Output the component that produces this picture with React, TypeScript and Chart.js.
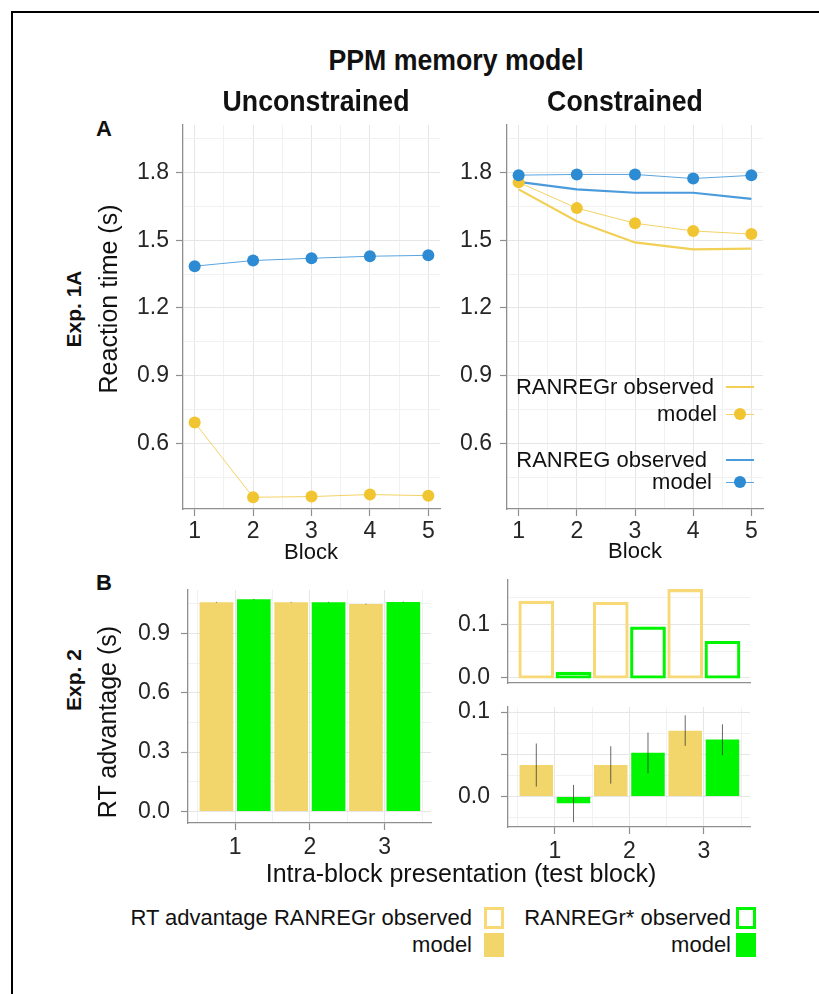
import React, { useEffect, useRef } from 'react';
import { Chart, registerables } from 'chart.js';
Chart.register(...registerables);

// ---------- DATA ----------
const BLOCKS = [1, 2, 3, 4, 5];
const UNC_RANREG_MODEL = [1.385, 1.41, 1.42, 1.429, 1.433];
const UNC_RANREGR_MODEL = [0.693, 0.362, 0.365, 0.374, 0.369];
const CON_RANREG_MODEL = [1.788, 1.791, 1.791, 1.773, 1.787];
const CON_RANREG_OBS = [1.758, 1.725, 1.71, 1.71, 1.683];
const CON_RANREGR_MODEL = [1.756, 1.642, 1.575, 1.541, 1.527];
const CON_RANREGR_OBS = [1.725, 1.584, 1.49, 1.459, 1.463];

const A_X_GRID = [1, 1.5, 2, 2.5, 3, 3.5, 4, 4.5, 5];
const A_X_LABELS = [1, 2, 3, 4, 5];
const A_Y_GRID = [0.45, 0.6, 0.75, 0.9, 1.05, 1.2, 1.35, 1.5, 1.65, 1.8, 1.95];
const A_Y_LABELS = [0.6, 0.9, 1.2, 1.5, 1.8];

const PRESENTATION = [1, 2, 3];
const UNC_ADV_R_MODEL = [1.057, 1.057, 1.048];
const UNC_ADV_R_LOW = [1.055, 1.055, 1.046];
const UNC_ADV_R_HIGH = [1.059, 1.059, 1.05];
const UNC_ADV_RSTAR_MODEL = [1.072, 1.057, 1.058];
const UNC_ADV_RSTAR_LOW = [1.07, 1.055, 1.056];
const UNC_ADV_RSTAR_HIGH = [1.074, 1.059, 1.06];

const CON_ADV_R_OBS = [0.142, 0.14, 0.164];
const CON_ADV_RSTAR_OBS = [0.0094, 0.094, 0.067];

const CON_ADV_R_MODEL = [0.0373, 0.0373, 0.078];
const CON_ADV_R_LOW = [0.0118, 0.0153, 0.06];
const CON_ADV_R_HIGH = [0.0628, 0.0596, 0.0961];
const CON_ADV_RSTAR_MODEL = [-0.0078, 0.0518, 0.0675];
const CON_ADV_RSTAR_LOW = [-0.0302, 0.0275, 0.049];
const CON_ADV_RSTAR_HIGH = [0.0138, 0.0757, 0.0855];

const B_X_GRID = [0.5, 1, 1.5, 2, 2.5, 3, 3.5];
const B_X_LABELS = [1, 2, 3];
const BL_Y_GRID = [0, 0.15, 0.3, 0.45, 0.6, 0.75, 0.9, 1.05];
const BL_Y_LABELS = [0, 0.3, 0.6, 0.9];
const BRT_Y_GRID = [0, 0.05, 0.1, 0.15];
const BRT_Y_LABELS = [0, 0.1];
const BRB_Y_GRID = [-0.025, 0, 0.025, 0.05, 0.075, 0.1];
const BRB_Y_MARKS = [0, 0.05, 0.1];
const BRB_Y_LABELS = [0, 0.1];

// ---------- STYLE ----------
const FONT = '"Liberation Sans", Arial, Helvetica, sans-serif';
const GRID_MAJOR = '#e6e6e6';
const GRID_MINOR = '#f1f1f1';
const AXIS = '#8f8f8f';
const TICK_TEXT = '#262626';
const Y_POINT = '#F0C531';
const Y_LINE_MODEL = '#F4D264';
const Y_LINE_OBS = '#F2CF55';
const B_POINT = '#2D8BD3';
const B_LINE_MODEL = '#5AA5E0';
const B_LINE_OBS = '#4A9BDB';
const Y_BAR = '#F2D66B';
const Y_OUTLINE = '#F7D978';
const G_BAR = '#00F500';

const near = (a: number, b: number) => Math.abs(a - b) < 1e-6;

type AxisOpts = {
  min: number; max: number; grid: number[]; marks: number[]; labels: number[];
  dec: number; isX: boolean; size: number; pad: number; showGrid: boolean; showTicks: boolean;
};

function axis(o: AxisOpts): any {
  return {
    type: 'linear',
    position: o.isX ? 'bottom' : 'left',
    min: o.min,
    max: o.max,
    offset: false,
    afterBuildTicks: (s: any) => { s.ticks = o.grid.map((v) => ({ value: v })); },
    afterFit: (s: any) => { if (o.isX) s.height = o.size; else s.width = o.size; },
    ticks: {
      display: o.showTicks,
      autoSkip: false,
      maxRotation: 0,
      minRotation: 0,
      padding: o.pad,
      color: TICK_TEXT,
      font: { family: FONT, size: 23 },
      callback: (v: number) => (o.labels.some((l) => near(l, v)) ? Number(v).toFixed(o.dec) : ''),
    },
    grid: {
      display: o.showGrid || o.showTicks,
      drawOnChartArea: o.showGrid,
      offset: false,
      drawTicks: o.showTicks,
      tickLength: 7,
      lineWidth: 1,
      color: (c: any) => (c.tick && o.marks.some((m) => near(m, c.tick.value)) ? GRID_MAJOR : GRID_MINOR),
      tickColor: (c: any) => (c.tick && o.marks.some((m) => near(m, c.tick.value)) ? AXIS : 'rgba(0,0,0,0)'),
      tickWidth: 1.2,
    },
    border: { display: true, color: AXIS, width: 1.3 },
  };
}

const errorBarPlugin = {
  id: 'errorBars',
  afterDatasetsDraw(chart: any) {
    const ctx = chart.ctx;
    const ys = chart.scales.y;
    chart.data.datasets.forEach((ds: any, i: number) => {
      if (!ds.errLow) return;
      const meta = chart.getDatasetMeta(i);
      meta.data.forEach((el: any, j: number) => {
        ctx.save();
        ctx.strokeStyle = 'rgba(40,40,40,0.7)';
        ctx.lineWidth = 1;
        ctx.beginPath();
        ctx.moveTo(el.x, ys.getPixelForValue(ds.errLow[j]));
        ctx.lineTo(el.x, ys.getPixelForValue(ds.errHigh[j]));
        ctx.stroke();
        ctx.restore();
      });
    });
  },
};

const Y_W = 70;
const PAD_T = 30;
const PAD_R = 15;

type Area = { L: number; T: number; R: number; B: number; xH: number; padB: number };
function geom(a: Area) {
  const left = a.L - Y_W;
  const top = a.T - PAD_T;
  return { left, top, width: a.R + PAD_R - left, height: a.B + a.xH + a.padB - top };
}

function baseOptions(a: Area, scales: any): any {
  return {
    responsive: false,
    animation: false,
    devicePixelRatio: 1,
    layout: { padding: { top: PAD_T, right: PAD_R, bottom: a.padB, left: 0 } },
    plugins: { legend: { display: false }, tooltip: { enabled: false } },
    scales,
  };
}

const pts = (xs: number[], ys: number[]) => xs.map((x, i) => ({ x, y: ys[i] }));

function modelLine(label: string, ys: number[], line: string, point: string) {
  return {
    label, data: pts(BLOCKS, ys), borderColor: line, borderWidth: 1,
    pointRadius: 6, pointBackgroundColor: point, pointBorderWidth: 0, tension: 0,
  };
}
function obsLine(label: string, ys: number[], color: string) {
  return { label, data: pts(BLOCKS, ys), borderColor: color, borderWidth: 2.2, pointRadius: 0, tension: 0 };
}

const A_L: Area = { L: 183, T: 125, R: 440, B: 509, xH: 45, padB: 0 };
const A_R: Area = { L: 507, T: 125, R: 763, B: 509, xH: 45, padB: 0 };
const B_L: Area = { L: 188, T: 590, R: 431, B: 823, xH: 45, padB: 0 };
const B_RT: Area = { L: 508, T: 580, R: 750, B: 683, xH: 0, padB: 25 };
const B_RB: Area = { L: 508, T: 707, R: 750, B: 827, xH: 45, padB: 0 };

function aScales(yPad: number) {
  return {
    x: axis({ min: 0.8, max: 5.2, grid: A_X_GRID, marks: A_X_LABELS, labels: A_X_LABELS, dec: 0, isX: true, size: 45, pad: 2, showGrid: true, showTicks: true }),
    y: axis({ min: 0.31, max: 2.01, grid: A_Y_GRID, marks: A_Y_LABELS, labels: A_Y_LABELS, dec: 1, isX: false, size: Y_W, pad: yPad, showGrid: true, showTicks: true }),
  };
}

function bX(show: boolean) {
  return axis({ min: 0.37, max: 3.62, grid: B_X_GRID, marks: B_X_LABELS, labels: B_X_LABELS, dec: 0, isX: true, size: show ? 45 : 0, pad: 4, showGrid: show, showTicks: show });
}

const barCommon = { categoryPercentage: 2, barPercentage: 0.9, borderSkipped: false as any };
const outlineCommon = { ...barCommon, backgroundColor: 'rgba(0,0,0,0)', borderWidth: 0.9, inflateAmount: 1.1 };

const configs: { area: Area; config: any }[] = [
  {
    area: A_L,
    config: {
      type: 'line',
      data: {
        datasets: [
          modelLine('RANREG model', UNC_RANREG_MODEL, B_LINE_MODEL, B_POINT),
          modelLine('RANREGr model', UNC_RANREGR_MODEL, Y_LINE_MODEL, Y_POINT),
        ],
      },
      options: baseOptions(A_L, aScales(7)),
    },
  },
  {
    area: A_R,
    config: {
      type: 'line',
      data: {
        datasets: [
          modelLine('RANREG model', CON_RANREG_MODEL, B_LINE_MODEL, B_POINT),
          modelLine('RANREGr model', CON_RANREGR_MODEL, Y_LINE_MODEL, Y_POINT),
          obsLine('RANREG observed', CON_RANREG_OBS, B_LINE_OBS),
          obsLine('RANREGr observed', CON_RANREGR_OBS, Y_LINE_OBS),
        ],
      },
      options: baseOptions(A_R, aScales(8)),
    },
  },
  {
    area: B_L,
    config: {
      type: 'bar',
      data: {
        datasets: [
          { label: 'RANREGr model', data: pts(PRESENTATION, UNC_ADV_R_MODEL), backgroundColor: Y_BAR, errLow: UNC_ADV_R_LOW, errHigh: UNC_ADV_R_HIGH, ...barCommon },
          { label: 'RANREGr* model', data: pts(PRESENTATION, UNC_ADV_RSTAR_MODEL), backgroundColor: G_BAR, errLow: UNC_ADV_RSTAR_LOW, errHigh: UNC_ADV_RSTAR_HIGH, ...barCommon },
        ],
      },
      options: baseOptions(B_L, {
        x: bX(true),
        y: axis({ min: -0.058, max: 1.119, grid: BL_Y_GRID, marks: BL_Y_LABELS, labels: BL_Y_LABELS, dec: 1, isX: false, size: Y_W, pad: 11, showGrid: true, showTicks: true }),
      }),
      plugins: [errorBarPlugin],
    },
  },
  {
    area: B_RT,
    config: {
      type: 'bar',
      data: {
        datasets: [
          { label: 'RANREGr observed', data: pts(PRESENTATION, CON_ADV_R_OBS), borderColor: Y_OUTLINE, ...outlineCommon },
          { label: 'RANREGr* observed', data: pts(PRESENTATION, CON_ADV_RSTAR_OBS), borderColor: G_BAR, ...outlineCommon },
        ],
      },
      options: baseOptions(B_RT, {
        x: bX(false),
        y: axis({ min: -0.0094, max: 0.183, grid: BRT_Y_GRID, marks: BRT_Y_LABELS, labels: BRT_Y_LABELS, dec: 1, isX: false, size: Y_W, pad: 11, showGrid: true, showTicks: true }),
      }),
    },
  },
  {
    area: B_RB,
    config: {
      type: 'bar',
      data: {
        datasets: [
          { label: 'RANREGr model', data: pts(PRESENTATION, CON_ADV_R_MODEL), backgroundColor: Y_BAR, errLow: CON_ADV_R_LOW, errHigh: CON_ADV_R_HIGH, ...barCommon },
          { label: 'RANREGr* model', data: pts(PRESENTATION, CON_ADV_RSTAR_MODEL), backgroundColor: G_BAR, errLow: CON_ADV_RSTAR_LOW, errHigh: CON_ADV_RSTAR_HIGH, ...barCommon },
        ],
      },
      options: baseOptions(B_RB, {
        x: bX(true),
        y: axis({ min: -0.036, max: 0.106, grid: BRB_Y_GRID, marks: BRB_Y_MARKS, labels: BRB_Y_LABELS, dec: 1, isX: false, size: Y_W, pad: 11, showGrid: true, showTicks: true }),
      }),
      plugins: [errorBarPlugin],
    },
  },
];

function ChartBox({ area, config }: { area: Area; config: any }) {
  const ref = useRef<HTMLCanvasElement | null>(null);
  const g = geom(area);
  useEffect(() => {
    if (!ref.current) return;
    const chart = new Chart(ref.current, config);
    return () => chart.destroy();
  }, []);
  return (
    <canvas
      ref={ref}
      width={g.width}
      height={g.height}
      style={{ position: 'absolute', left: g.left, top: g.top, width: g.width, height: g.height }}
    />
  );
}

type TxtProps = {
  x: number; y: number; text: string; size: number; bold?: boolean;
  anchor?: 'middle' | 'end' | 'start'; rotate?: boolean; sx?: number;
};
function Txt({ x, y, text, size, bold, anchor = 'middle', rotate, sx }: TxtProps) {
  const tx = anchor === 'middle' ? '-50%' : anchor === 'end' ? '-100%' : '0';
  let transform = `translate(${tx}, -50%)`;
  if (rotate) transform += ' rotate(-90deg)';
  if (sx) transform += ` scaleX(${sx})`;
  return (
    <div
      style={{
        position: 'absolute', left: x, top: y, transform,
        transformOrigin: rotate ? 'center center' : anchor === 'end' ? 'right center' : 'center center',
        fontFamily: FONT, fontSize: size, fontWeight: bold ? 700 : 400,
        lineHeight: 1, whiteSpace: 'nowrap', color: '#111',
      }}
    >
      {text}
    </div>
  );
}

function Box({ x, y, w, h, fill, stroke }: { x: number; y: number; w: number; h: number; fill?: string; stroke?: string }) {
  return (
    <div
      style={{
        position: 'absolute', left: x, top: y, width: w, height: h, boxSizing: 'border-box',
        background: fill || 'transparent', border: stroke ? `3px solid ${stroke}` : 'none',
      }}
    />
  );
}

function LineKey({ x, y, w, color, thick, point }: { x: number; y: number; w: number; color: string; thick: number; point?: string }) {
  return (
    <>
      <div style={{ position: 'absolute', left: x, top: y - thick / 2, width: w, height: thick, background: color }} />
      {point && (
        <div style={{ position: 'absolute', left: x + w / 2 - 6, top: y - 6, width: 12, height: 12, borderRadius: 6, background: point }} />
      )}
    </>
  );
}

export default function App() {
  return (
    <div style={{ position: 'absolute', left: 0, top: 0, width: 819, height: 994, background: '#fff', overflow: 'hidden' }}>
      <div style={{ position: 'absolute', left: 11, top: 11, width: 830, height: 1000, borderTop: '2px solid #000', borderLeft: '2px solid #000' }} />

      {configs.map((c, i) => (
        <ChartBox key={i} area={c.area} config={c.config} />
      ))}

      <Txt x={456} y={60} text="PPM memory model" size={30} bold sx={0.89} />
      <Txt x={316} y={101} text="Unconstrained" size={30} bold sx={0.89} />
      <Txt x={624.5} y={101} text="Constrained" size={30} bold sx={0.89} />

      <Txt x={104} y={129} text="A" size={22} bold />
      <Txt x={104} y={583} text="B" size={22} bold />

      <Txt x={73} y={309} text="Exp. 1A" size={21} bold rotate />
      <Txt x={108} y={299} text="Reaction time (s)" size={25} rotate />
      <Txt x={311} y={552} text="Block" size={22} />
      <Txt x={635} y={551} text="Block" size={22} />

      <Txt x={73} y={680} text="Exp. 2" size={21} bold rotate />
      <Txt x={107} y={722} text="RT advantage (s)" size={25} rotate />
      <Txt x={461} y={873} text="Intra-block presentation (test block)" size={25} />

      {/* legend in Constrained panel */}
      <Txt x={714} y={387} text="RANREGr observed" size={22} anchor="end" />
      <LineKey x={726} y={387} w={28} color={Y_LINE_OBS} thick={2.2} />
      <Txt x={717} y={414} text="model" size={22} anchor="end" />
      <LineKey x={726} y={414} w={28} color={Y_LINE_MODEL} thick={1} point={Y_POINT} />
      <Txt x={707} y={460} text="RANREG observed" size={22} anchor="end" />
      <LineKey x={726} y={460} w={28} color={B_LINE_OBS} thick={2.2} />
      <Txt x={712} y={482} text="model" size={22} anchor="end" />
      <LineKey x={726} y={482} w={28} color={B_LINE_MODEL} thick={1} point={B_POINT} />

      {/* bottom legend */}
      <Txt x={472} y={918} text="RT advantage RANREGr observed" size={22} anchor="end" />
      <Box x={484} y={907} w={20} h={22} stroke={Y_OUTLINE} />
      <Txt x={472} y={945} text="model" size={22} anchor="end" />
      <Box x={484} y={933} w={20} h={24} fill={Y_BAR} />
      <Txt x={731} y={918} text="RANREGr* observed" size={22} anchor="end" />
      <Box x={736} y={907} w={20} h={22} stroke={G_BAR} />
      <Txt x={731} y={945} text="model" size={22} anchor="end" />
      <Box x={736} y={933} w={20} h={24} fill={G_BAR} />
    </div>
  );
}
